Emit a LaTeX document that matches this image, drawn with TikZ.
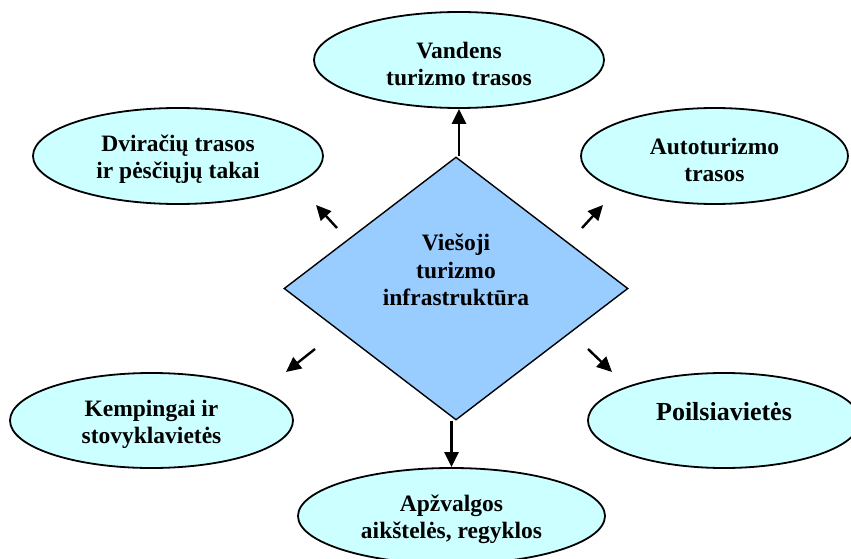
\documentclass[tikz,border=0pt]{standalone}
\usepackage{fontspec}
\setmainfont{Liberation Serif}
\usetikzlibrary{shapes.geometric,arrows.meta}
\definecolor{bubblefill}{HTML}{CCFFFF}
\definecolor{hubfill}{HTML}{99CCFF}
\newcommand{\lowerfirst}{\rule{0pt}{24pt}}
\tikzset{
  bubble/.style={ellipse, draw=black, line width=1.8pt, fill=bubblefill, inner sep=0pt,
    align=center, font=\fontsize{23.5pt}{27pt}\selectfont\bfseries},
  hubshape/.style={diamond, draw=black, line width=1.4pt, fill=hubfill, inner sep=0pt,
    minimum width=344pt, minimum height=263pt},
  hubtext/.style={align=center, font=\fontsize{23.5pt}{27.5pt}\selectfont\bfseries},
  arr/.style={line width=2.4pt, -{Triangle[length=15pt,width=14pt]}}
}
\begin{document}
\begin{tikzpicture}[x=1pt,y=1pt]
\clip (0,0) rectangle (851,-559);
\fill[white] (0,0) rectangle (851,-559);

\node[hubshape] (hub) at (456,-288.5) {};
\node[hubtext] (hubt) at (456,-270) {Viešoji\\turizmo\\infrastruktūra};

\node[bubble, minimum width=290pt, minimum height=96pt] (vand) at (459,-60) {\lowerfirst Vandens\\turizmo trasos};
\node[bubble, minimum width=290pt, minimum height=96pt] (dvir) at (178,-156) {\lowerfirst Dviračių trasos\\ir pėsčiųjų takai};
\node[bubble, minimum width=267pt, minimum height=96pt] (auto) at (714.5,-156) {\lowerfirst Autoturizmo\\trasos};
\node[bubble, minimum width=283pt, minimum height=95pt] (kemp) at (151.5,-420.5) {\lowerfirst Kempingai ir\\stovyklavietės};
\node[bubble, minimum width=272pt, minimum height=95pt, font=\fontsize{26pt}{30pt}\selectfont\bfseries] (poil) at (724,-420.5) {\raisebox{0pt}[0pt][0pt]{Poilsiavietės}};
\node[bubble, minimum width=307pt, minimum height=96pt] (apzv) at (451.5,-516) {\lowerfirst Apžvalgos\\aikštelės, regyklos};

\coordinate (ula) at (337,-228); \coordinate (ulb) at (316,-205);
\coordinate (ura) at (582,-228); \coordinate (urb) at (603,-205);
\coordinate (lla) at (315,-349); \coordinate (llb) at (286,-372);
\coordinate (lra) at (588,-349); \coordinate (lrb) at (612,-372);

\draw[arr] (hub.north -| vand.south) -- (vand.south);
\draw[arr] (hub.south -| apzv.north) -- (apzv.north);
\draw[arr] (ula) -- (ulb);
\draw[arr] (ura) -- (urb);
\draw[arr] (lla) -- (llb);
\draw[arr] (lra) -- (lrb);
\end{tikzpicture}
\end{document}
